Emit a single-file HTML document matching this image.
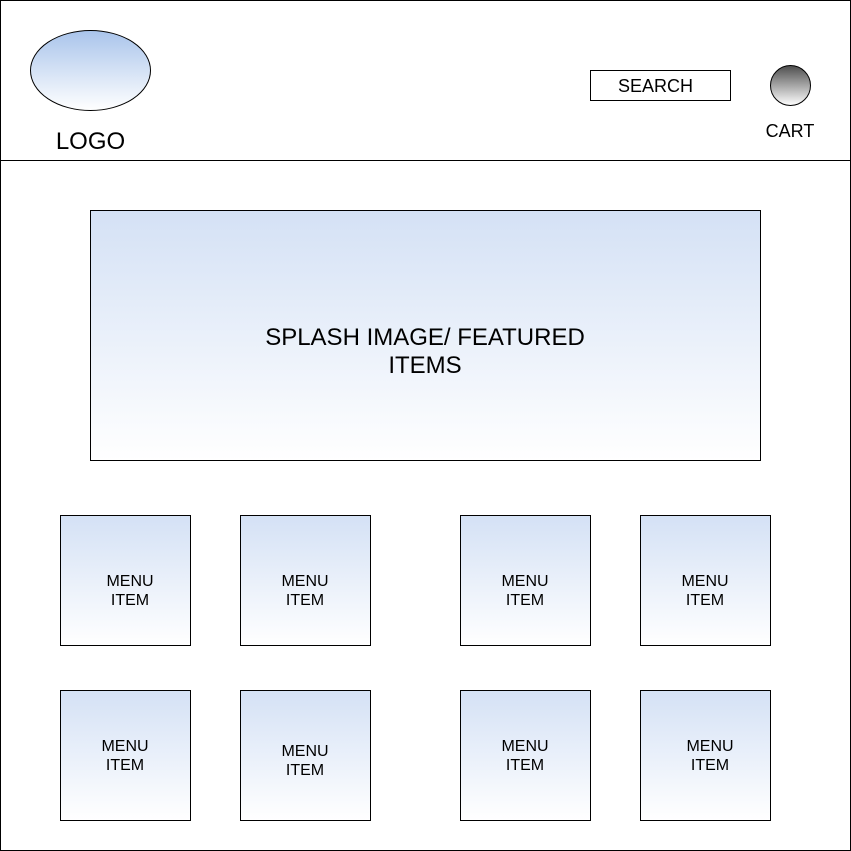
<!DOCTYPE html>
<html lang="en">
<head>
<meta charset="utf-8">
<title>Website wireframe</title>
<style>
html,body{margin:0;padding:0;background:#fff;width:851px;height:851px;overflow:hidden}
svg{display:block}
text{font-family:"Liberation Sans",Arial,sans-serif;fill:#000;text-anchor:middle}
.box{stroke:#000;stroke-width:1}
.menu{font-size:16px}
</style>
</head>
<body>
<svg width="851" height="851" viewBox="0 0 851 851" xmlns="http://www.w3.org/2000/svg">
<defs>
<linearGradient id="blue" x1="0" y1="0" x2="0" y2="1"><stop offset="0" stop-color="#d4e1f5"/><stop offset="1" stop-color="#ffffff"/></linearGradient>
<linearGradient id="logoGrad" x1="0" y1="0" x2="0" y2="1"><stop offset="0" stop-color="#a9c4eb"/><stop offset="1" stop-color="#ffffff"/></linearGradient>
<linearGradient id="cartGrad" x1="0" y1="0" x2="0" y2="1"><stop offset="0" stop-color="#4d4d4d"/><stop offset="1" stop-color="#ffffff"/></linearGradient>
</defs>
<rect x="0" y="0" width="851" height="851" fill="#fff"/>
<rect class="box" x="0.5" y="0.5" width="850" height="850" fill="#fff"/>
<line class="box" x1="0.5" y1="160.5" x2="850.5" y2="160.5"/>

<ellipse class="box" cx="90.5" cy="70.5" rx="60" ry="40" fill="url(#logoGrad)"/>
<text x="90.5" y="149" font-size="24">LOGO</text>

<rect class="box" x="590.5" y="70.5" width="140" height="30" fill="#fff"/>
<text x="655.5" y="92" font-size="18">SEARCH</text>

<circle class="box" cx="790.5" cy="85.5" r="20" fill="url(#cartGrad)"/>
<text x="790" y="137" font-size="18">CART</text>

<rect class="box" x="90.5" y="210.5" width="670" height="250" fill="url(#blue)"/>
<text x="425" y="345" font-size="24">SPLASH IMAGE/ FEATURED</text>
<text x="425" y="373" font-size="24">ITEMS</text>

<rect class="box" x="60.5" y="515.5" width="130" height="130" fill="url(#blue)"/>
<text class="menu" x="130" y="586">MENU</text>
<text class="menu" x="130" y="605">ITEM</text>

<rect class="box" x="240.5" y="515.5" width="130" height="130" fill="url(#blue)"/>
<text class="menu" x="305" y="586">MENU</text>
<text class="menu" x="305" y="605">ITEM</text>

<rect class="box" x="460.5" y="515.5" width="130" height="130" fill="url(#blue)"/>
<text class="menu" x="525" y="586">MENU</text>
<text class="menu" x="525" y="605">ITEM</text>

<rect class="box" x="640.5" y="515.5" width="130" height="130" fill="url(#blue)"/>
<text class="menu" x="705" y="586">MENU</text>
<text class="menu" x="705" y="605">ITEM</text>

<rect class="box" x="60.5" y="690.5" width="130" height="130" fill="url(#blue)"/>
<text class="menu" x="125" y="751">MENU</text>
<text class="menu" x="125" y="770">ITEM</text>

<rect class="box" x="240.5" y="690.5" width="130" height="130" fill="url(#blue)"/>
<text class="menu" x="305" y="756">MENU</text>
<text class="menu" x="305" y="775">ITEM</text>

<rect class="box" x="460.5" y="690.5" width="130" height="130" fill="url(#blue)"/>
<text class="menu" x="525" y="751">MENU</text>
<text class="menu" x="525" y="770">ITEM</text>

<rect class="box" x="640.5" y="690.5" width="130" height="130" fill="url(#blue)"/>
<text class="menu" x="710" y="751">MENU</text>
<text class="menu" x="710" y="770">ITEM</text>
</svg>
</body>
</html>
